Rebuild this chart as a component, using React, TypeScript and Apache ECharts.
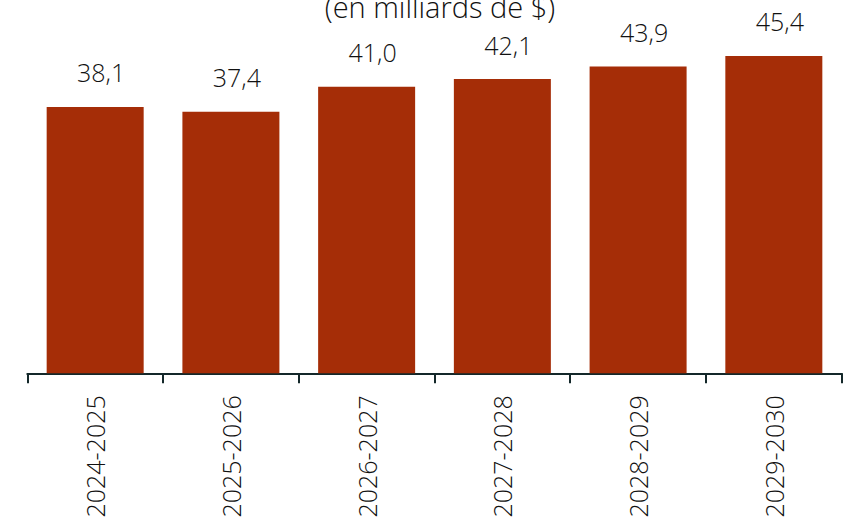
import React, { useEffect, useRef } from "react";
import * as echarts from "echarts";

const categories = ["2024-2025", "2025-2026", "2026-2027", "2027-2028", "2028-2029", "2029-2030"];
const values = [38.1, 37.4, 41.0, 42.1, 43.9, 45.4];
const titleText = "(en milliards de $)";

const FONT = "'Open Sans', sans-serif";
const BAR_COLOR = "#A52D07";
const TEXT_COLOR = "#111111";
const WEIGHT = 350;

export default function App() {
  const ref = useRef<HTMLDivElement>(null);
  useEffect(() => {
    if (!ref.current) return;
    const chart = echarts.init(ref.current, undefined, { renderer: "svg" });
    chart.setOption({
      animation: false,
      title: {
        text: titleText,
        left: 435,
        top: -13,
        textAlign: "center",
        textStyle: { fontFamily: FONT, fontSize: 29, fontWeight: WEIGHT, color: TEXT_COLOR },
      },
      grid: { left: 27.3, right: 9.3, top: 23.8, bottom: 154.7, containLabel: false },
      xAxis: {
        type: "category",
        data: categories,
        axisLine: { show: true, lineStyle: { color: "#14282a", width: 2 } },
        axisTick: { show: true, inside: false, interval: 0, alignWithLabel: false, length: 10, lineStyle: { color: "#14282a", width: 2 } },
        axisLabel: {
          rotate: 90,
          margin: 22,
          interval: 0,
          fontFamily: FONT,
          fontSize: 25,
          fontWeight: WEIGHT,
          color: TEXT_COLOR,
        },
      },
      yAxis: {
        type: "value",
        min: 0,
        max: 50,
        show: false,
        splitLine: { show: false },
      },
      series: [
        {
          type: "bar",
          data: values,
          barWidth: 97,
          itemStyle: { color: BAR_COLOR },
          label: {
            show: true,
            position: "top",
            distance: 22,
            offset: [6, 0],
            fontFamily: FONT,
            fontSize: 25,
            fontWeight: WEIGHT,
            color: TEXT_COLOR,
            formatter: (p: any) => p.value.toFixed(1).replace(".", ","),
          },
        },
      ],
    });
    return () => chart.dispose();
  }, []);
  return (
    <div
      ref={ref}
      style={{ position: "fixed", left: 0, top: 0, width: 851, height: 528, background: "#fff" }}
    />
  );
}
